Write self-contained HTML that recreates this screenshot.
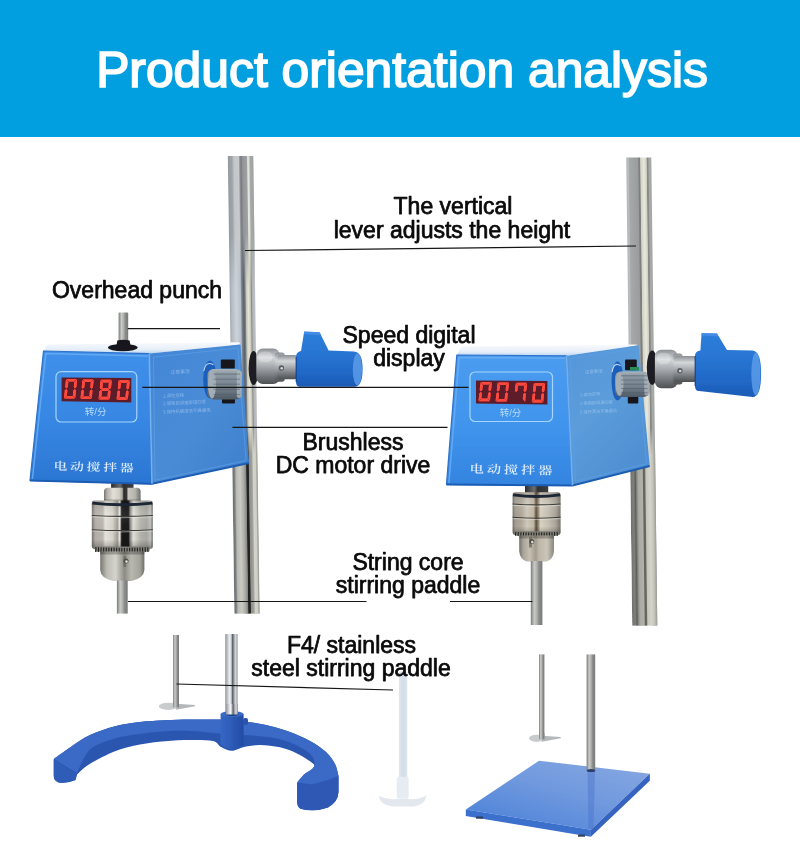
<!DOCTYPE html>
<html lang="en">
<head>
<meta charset="utf-8">
<title>Product orientation analysis</title>
<style>
html,body{margin:0;padding:0;background:#fff;}
body{width:800px;height:841px;overflow:hidden;position:relative;font-family:"Liberation Sans","Noto Sans CJK SC",sans-serif;}
#hdr{position:absolute;left:0;top:0;width:800px;height:137px;background:#019fe0;}
#hdr h1{position:absolute;left:0;top:0;width:800px;margin:0;text-align:center;color:#fff;font-weight:400;font-size:49.8px;line-height:52px;top:44px;padding-left:4px;box-sizing:border-box;letter-spacing:0;-webkit-text-stroke:1.7px #fff;white-space:nowrap;}
svg{position:absolute;left:0;top:0;}
.lbl{font-family:"Liberation Sans",sans-serif;font-size:23px;fill:#0a0a0a;text-anchor:middle;stroke:#0a0a0a;stroke-width:0.75px;stroke-linejoin:round;}
.ln{stroke:#161616;stroke-width:1.2;fill:none;}
</style>
</head>
<body>
<div id="hdr"><h1>Product orientation analysis</h1></div>
<svg id="art" width="800" height="841" viewBox="0 0 800 841">
<defs>
<linearGradient id="rod" x1="0" y1="0" x2="1" y2="0">
  <stop offset="0" stop-color="#a0a7ad"/>
  <stop offset="0.07" stop-color="#b4bbc2"/>
  <stop offset="0.25" stop-color="#cdd3da"/>
  <stop offset="0.42" stop-color="#b9c0c9"/>
  <stop offset="0.47" stop-color="#7a828d"/>
  <stop offset="0.55" stop-color="#59616b"/>
  <stop offset="0.61" stop-color="#7e848a"/>
  <stop offset="0.64" stop-color="#c3c3b6"/>
  <stop offset="0.73" stop-color="#e6e5d8"/>
  <stop offset="0.81" stop-color="#c4c4b8"/>
  <stop offset="0.85" stop-color="#8b8c86"/>
  <stop offset="0.89" stop-color="#b0b3b8"/>
  <stop offset="1" stop-color="#c0c4c8"/>
</linearGradient>
<linearGradient id="rodR" x1="0" y1="0" x2="1" y2="0">
  <stop offset="0" stop-color="#b4b7b8"/>
  <stop offset="0.08" stop-color="#bbbebe"/>
  <stop offset="0.12" stop-color="#a6a9aa"/>
  <stop offset="0.46" stop-color="#9a9d9e"/>
  <stop offset="0.5" stop-color="#7b7e7c"/>
  <stop offset="0.54" stop-color="#7f827f"/>
  <stop offset="0.57" stop-color="#d3d2c6"/>
  <stop offset="0.7" stop-color="#e9e8dd"/>
  <stop offset="0.8" stop-color="#d0cfc4"/>
  <stop offset="0.83" stop-color="#888984"/>
  <stop offset="0.87" stop-color="#8c8d88"/>
  <stop offset="0.9" stop-color="#a8aaaa"/>
  <stop offset="1" stop-color="#a4a6a6"/>
</linearGradient>
<linearGradient id="rodLow" x1="0" y1="0" x2="1" y2="0">
  <stop offset="0" stop-color="#6a6e70"/>
  <stop offset="0.08" stop-color="#7d8182"/>
  <stop offset="0.14" stop-color="#b9bab4"/>
  <stop offset="0.3" stop-color="#cacac2"/>
  <stop offset="0.45" stop-color="#a8a9a4"/>
  <stop offset="0.54" stop-color="#85867f"/>
  <stop offset="0.57" stop-color="#1f2021"/>
  <stop offset="0.64" stop-color="#242526"/>
  <stop offset="0.67" stop-color="#8e8f8a"/>
  <stop offset="0.79" stop-color="#a3a49e"/>
  <stop offset="0.83" stop-color="#d4d4ca"/>
  <stop offset="0.93" stop-color="#cfcfc6"/>
  <stop offset="1" stop-color="#8f908c"/>
</linearGradient>
<linearGradient id="rodLowR" x1="0" y1="0" x2="1" y2="0">
  <stop offset="0" stop-color="#6f706b"/>
  <stop offset="0.12" stop-color="#80817b"/>
  <stop offset="0.2" stop-color="#5f6059"/>
  <stop offset="0.26" stop-color="#8b8c86"/>
  <stop offset="0.32" stop-color="#a9aaa3"/>
  <stop offset="0.48" stop-color="#b2b2aa"/>
  <stop offset="0.52" stop-color="#62635c"/>
  <stop offset="0.58" stop-color="#6a6b64"/>
  <stop offset="0.62" stop-color="#c6c6bd"/>
  <stop offset="0.78" stop-color="#d4d4cb"/>
  <stop offset="0.9" stop-color="#c2c2b9"/>
  <stop offset="1" stop-color="#9a9b95"/>
</linearGradient>
<linearGradient id="thin" x1="0" y1="0" x2="1" y2="0">
  <stop offset="0" stop-color="#787b7c"/>
  <stop offset="0.3" stop-color="#c9cac6"/>
  <stop offset="0.5" stop-color="#b4b5b0"/>
  <stop offset="0.7" stop-color="#8b8d8c"/>
  <stop offset="1" stop-color="#77797a"/>
</linearGradient>
<linearGradient id="front" x1="0" y1="0" x2="0" y2="1">
  <stop offset="0" stop-color="#3f90ea"/>
  <stop offset="0.55" stop-color="#3686e3"/>
  <stop offset="1" stop-color="#2b76d2"/>
</linearGradient>
<linearGradient id="side" x1="0" y1="0" x2="1" y2="1">
  <stop offset="0" stop-color="#4286d6"/>
  <stop offset="0.5" stop-color="#4a8cd6"/>
  <stop offset="1" stop-color="#3f7fcc"/>
</linearGradient>
<linearGradient id="topf" x1="0" y1="0" x2="0" y2="1">
  <stop offset="0" stop-color="#f8fafd"/>
  <stop offset="0.65" stop-color="#e6eef8"/>
  <stop offset="1" stop-color="#bcd6f3"/>
</linearGradient>
<linearGradient id="chrome" x1="0" y1="0" x2="1" y2="0">
  <stop offset="0" stop-color="#77746f"/>
  <stop offset="0.06" stop-color="#b3aea8"/>
  <stop offset="0.18" stop-color="#bdb8b0"/>
  <stop offset="0.22" stop-color="#e6e4dc"/>
  <stop offset="0.34" stop-color="#d6d4ca"/>
  <stop offset="0.42" stop-color="#a19f94"/>
  <stop offset="0.46" stop-color="#efeee8"/>
  <stop offset="0.49" stop-color="#1a1a1a"/>
  <stop offset="0.6" stop-color="#151515"/>
  <stop offset="0.63" stop-color="#8a8983"/>
  <stop offset="0.68" stop-color="#e2e1da"/>
  <stop offset="0.8" stop-color="#b5b4ac"/>
  <stop offset="0.9" stop-color="#a9a8a2"/>
  <stop offset="0.96" stop-color="#c2c2bc"/>
  <stop offset="1" stop-color="#6d6e70"/>
</linearGradient>
<linearGradient id="nose" x1="0" y1="0" x2="1" y2="0">
  <stop offset="0" stop-color="#77766f"/>
  <stop offset="0.15" stop-color="#bdbcb4"/>
  <stop offset="0.35" stop-color="#d5d4cc"/>
  <stop offset="0.55" stop-color="#8d8c84"/>
  <stop offset="0.7" stop-color="#b9b8b0"/>
  <stop offset="0.9" stop-color="#a3a29b"/>
  <stop offset="1" stop-color="#6f6e69"/>
</linearGradient>
<linearGradient id="collar" x1="0" y1="0" x2="0" y2="1">
  <stop offset="0" stop-color="#8b8f93"/>
  <stop offset="0.25" stop-color="#d4d7da"/>
  <stop offset="0.5" stop-color="#a9adb1"/>
  <stop offset="0.8" stop-color="#6f7377"/>
  <stop offset="1" stop-color="#4d5053"/>
</linearGradient>
<linearGradient id="handle" x1="0" y1="0" x2="0" y2="1">
  <stop offset="0" stop-color="#2d7ddb"/>
  <stop offset="0.3" stop-color="#2a78d6"/>
  <stop offset="0.75" stop-color="#2168c6"/>
  <stop offset="1" stop-color="#1b5bb4"/>
</linearGradient>
<linearGradient id="knob" x1="0" y1="0" x2="0" y2="1">
  <stop offset="0" stop-color="#aab4bc"/>
  <stop offset="0.15" stop-color="#8e9aa4"/>
  <stop offset="0.6" stop-color="#74818d"/>
  <stop offset="1" stop-color="#4f5b66"/>
</linearGradient>
<linearGradient id="baseTop" x1="0" y1="0" x2="0" y2="1">
  <stop offset="0" stop-color="#3f74d2"/>
  <stop offset="1" stop-color="#2c5cc0"/>
</linearGradient>
<linearGradient id="plateTop" x1="0.9" y1="0" x2="0.1" y2="1">
  <stop offset="0" stop-color="#86a7e2"/>
  <stop offset="0.45" stop-color="#7099de"/>
  <stop offset="1" stop-color="#4a80d8"/>
</linearGradient>
<filter id="soft" x="-5%" y="-5%" width="110%" height="110%"><feGaussianBlur stdDeviation="0.45"/></filter>
<filter id="soft2" x="-10%" y="-10%" width="120%" height="120%"><feGaussianBlur stdDeviation="0.8"/></filter>
<linearGradient id="neck" x1="0" y1="0" x2="1" y2="0">
  <stop offset="0" stop-color="#2a2c2e"/>
  <stop offset="0.4" stop-color="#6b6e70"/>
  <stop offset="0.55" stop-color="#2f3133"/>
  <stop offset="1" stop-color="#3c3e40"/>
</linearGradient>
<filter id="glow" x="-20%" y="-20%" width="140%" height="140%"><feGaussianBlur stdDeviation="0.5" result="b"/><feMerge><feMergeNode in="b"/><feMergeNode in="SourceGraphic"/></feMerge></filter>
<linearGradient id="hub" x1="0" y1="0" x2="1" y2="0">
  <stop offset="0" stop-color="#3767c4"/>
  <stop offset="0.4" stop-color="#2f5dba"/>
  <stop offset="1" stop-color="#234ca4"/>
</linearGradient>
<linearGradient id="ptfe" x1="0" y1="0" x2="1" y2="0">
  <stop offset="0" stop-color="#dfe7ef"/>
  <stop offset="0.5" stop-color="#d3deea"/>
  <stop offset="1" stop-color="#dde5ee"/>
</linearGradient>
<linearGradient id="vshade" x1="0" y1="0" x2="0" y2="1">
  <stop offset="0" stop-color="#000" stop-opacity="0.12"/>
  <stop offset="0.3" stop-color="#fff" stop-opacity="0.08"/>
  <stop offset="0.8" stop-color="#000" stop-opacity="0"/>
  <stop offset="1" stop-color="#000" stop-opacity="0.28"/>
</linearGradient>
<linearGradient id="chromeR" x1="0" y1="0" x2="1" y2="0">
  <stop offset="0" stop-color="#6f6a62"/>
  <stop offset="0.05" stop-color="#a39c90"/>
  <stop offset="0.18" stop-color="#b0a89a"/>
  <stop offset="0.3" stop-color="#d0c9bb"/>
  <stop offset="0.44" stop-color="#c0b7a6"/>
  <stop offset="0.49" stop-color="#5c4c3a"/>
  <stop offset="0.53" stop-color="#8a7c68"/>
  <stop offset="0.58" stop-color="#d9d3c5"/>
  <stop offset="0.75" stop-color="#c6bfb2"/>
  <stop offset="0.9" stop-color="#aaa398"/>
  <stop offset="1" stop-color="#77726a"/>
</linearGradient>
<linearGradient id="noseR" x1="0" y1="0" x2="1" y2="0">
  <stop offset="0" stop-color="#76716a"/>
  <stop offset="0.12" stop-color="#aaa499"/>
  <stop offset="0.3" stop-color="#c6c0b3"/>
  <stop offset="0.48" stop-color="#a39b8c"/>
  <stop offset="0.56" stop-color="#bdb6a8"/>
  <stop offset="0.8" stop-color="#cbc5b9"/>
  <stop offset="1" stop-color="#8a857d"/>
</linearGradient>
<linearGradient id="rodBase" x1="0" y1="0" x2="1" y2="0">
  <stop offset="0" stop-color="#8f979e"/>
  <stop offset="0.2" stop-color="#c3c9cf"/>
  <stop offset="0.38" stop-color="#f3f5f7"/>
  <stop offset="0.5" stop-color="#b8bec4"/>
  <stop offset="0.6" stop-color="#545a60"/>
  <stop offset="0.7" stop-color="#9aa0a6"/>
  <stop offset="0.85" stop-color="#d7dadd"/>
  <stop offset="1" stop-color="#8d9399"/>
</linearGradient>
<linearGradient id="frontR" x1="0" y1="0" x2="0" y2="1">
  <stop offset="0" stop-color="#4a9cf0"/>
  <stop offset="0.55" stop-color="#4094ec"/>
  <stop offset="1" stop-color="#3384e0"/>
</linearGradient>
<linearGradient id="sideR" x1="0" y1="0" x2="0.6" y2="1">
  <stop offset="0" stop-color="#5596da"/>
  <stop offset="0.5" stop-color="#5b9cda"/>
  <stop offset="1" stop-color="#4f8fd2"/>
</linearGradient>
<linearGradient id="chromeC" x1="0" y1="0" x2="1" y2="0">
  <stop offset="0" stop-color="#77746f"/>
  <stop offset="0.08" stop-color="#b3aea8"/>
  <stop offset="0.25" stop-color="#e2e0d8"/>
  <stop offset="0.42" stop-color="#cfcdc4"/>
  <stop offset="0.5" stop-color="#a8a69c"/>
  <stop offset="0.54" stop-color="#2a2a2a"/>
  <stop offset="0.62" stop-color="#3a3a38"/>
  <stop offset="0.66" stop-color="#c9c8c0"/>
  <stop offset="0.85" stop-color="#b5b4ac"/>
  <stop offset="1" stop-color="#6d6e70"/>
</linearGradient>
<linearGradient id="rodTop" x1="0" y1="0" x2="1" y2="0">
  <stop offset="0" stop-color="#949a9e"/>
  <stop offset="0.16" stop-color="#a0a5a9"/>
  <stop offset="0.24" stop-color="#c3c7ca"/>
  <stop offset="0.42" stop-color="#c6cacd"/>
  <stop offset="0.47" stop-color="#8a8f93"/>
  <stop offset="0.52" stop-color="#777c80"/>
  <stop offset="0.58" stop-color="#92969a"/>
  <stop offset="0.74" stop-color="#9da1a2"/>
  <stop offset="0.78" stop-color="#e9e9e1"/>
  <stop offset="0.83" stop-color="#dcdcd4"/>
  <stop offset="0.87" stop-color="#a6a9a9"/>
  <stop offset="1" stop-color="#a0a3a4"/>
</linearGradient>
<linearGradient id="fadeDown" x1="0" y1="0" x2="0" y2="1">
  <stop offset="0" stop-color="#fff" stop-opacity="1"/>
  <stop offset="0.6" stop-color="#fff" stop-opacity="1"/>
  <stop offset="1" stop-color="#fff" stop-opacity="0"/>
</linearGradient>
<mask id="mTop" maskUnits="userSpaceOnUse" x="0" y="0" width="30" height="130"><rect x="0" y="0" width="30" height="130" fill="url(#fadeDown)"/></mask>
<linearGradient id="fadeUp" x1="0" y1="0" x2="0" y2="1">
  <stop offset="0" stop-color="#fff" stop-opacity="0"/>
  <stop offset="0.14" stop-color="#fff" stop-opacity="1"/>
  <stop offset="1" stop-color="#fff" stop-opacity="1"/>
</linearGradient>
<mask id="mLow" maskUnits="userSpaceOnUse" x="0" y="270" width="30" height="200"><rect x="0" y="270" width="30" height="200" fill="url(#fadeUp)"/></mask>

</defs>
<g id="photo" filter="url(#soft)">
<rect x="0" y="0" width="25.4" height="457.5" fill="url(#rod)" transform="translate(227.8,156) skewX(0.82)"/>
<rect x="0" y="0" width="25.1" height="468" fill="url(#rodR)" transform="translate(626.2,157.5) skewX(0.735)"/>
<g transform="translate(227.8,156) skewX(0.82)"><rect x="0" y="0" width="25.4" height="130" fill="url(#rodTop)" mask="url(#mTop)"/></g>
<g transform="translate(227.8,156) skewX(0.82)"><rect x="0.2" y="270" width="24.9" height="187.5" fill="url(#rodLow)" mask="url(#mLow)"/></g>
<g transform="translate(626.2,157.5) skewX(0.735)"><rect x="0" y="270" width="25.1" height="198" fill="url(#rodLowR)" mask="url(#mLow)"/></g>
<rect x="111.1" y="480.0" width="22.4" height="9.5" fill="url(#neck)"/>
<path d="M104.0,501.5 L104.0,491.3 Q104.0,487.8 108.0,487.8 L136.6,487.8 Q140.6,487.8 140.6,491.3 L140.6,501.5 Z" fill="url(#chromeC)"/>
<rect x="104.0" y="499.5" width="36.6" height="2" fill="#000" opacity="0.25"/>
<rect x="91.8" y="500.5" width="61.0" height="48.5" rx="3" fill="url(#chrome)"/>
<rect x="91.8" y="500.5" width="61.0" height="48.5" rx="3" fill="url(#vshade)"/>
<path d="M92.6,501.7 Q122.3,504.7 152.0,501.7 L152.5,504.5 Q122.3,508.1 92.1,504.5 Z" fill="#1c2536"/>
<path d="M91.8,515.5 Q122.3,517.3 152.8,515.5" stroke="#3b3b38" stroke-width="1.1" fill="none"/>
<path d="M91.8,516.8 Q122.3,518.6 152.8,516.8" stroke="#f2f1ea" stroke-width="0.8" fill="none" opacity="0.6"/>
<path d="M91.8,529.7 Q122.3,531.5 152.8,529.7" stroke="#3b3b38" stroke-width="1.1" fill="none"/>
<path d="M91.8,531.0 Q122.3,532.8 152.8,531.0" stroke="#f2f1ea" stroke-width="0.8" fill="none" opacity="0.6"/>
<path d="M94.3,546.5 L150.3,546.5 L149.3,551.5 Q122.3,553.7 95.3,551.5 Z" fill="#7f7e78"/>
<path d="M95.3,549.5 Q122.3,551.1 149.3,549.5" stroke="#24241f" stroke-width="4.8" stroke-dasharray="1.1 1.5" fill="none"/>
<path d="M100.2,551.5 L144.4,551.5 L144.4,570.0 Q143.9,578.2 131.5,581.0 L113.1,581.0 Q100.7,578.2 100.2,570.0 Z" fill="url(#nose)"/>
<rect x="100.2" y="551.5" width="44.2" height="3" fill="#000" opacity="0.25"/>
<rect x="116.9" y="580.5" width="10.8" height="33.1" fill="url(#thin)"/>
<rect x="123.2" y="556.0" width="3" height="11" fill="#6d6c66" opacity="0.8"/>
<circle cx="126.0" cy="561.0" r="2.5" fill="#4d4d48"/><circle cx="126.5" cy="561.6" r="1.3" fill="#dddcd6"/>
<polygon points="43.5,351.0 47.0,344.5 239.0,342.2 240.5,344.5 149.3,353.6" fill="url(#topf)"/>
<polygon points="149.3,353.6 240.5,344.5 249.0,463.0 152.0,483.8" fill="url(#side)"/>
<polygon points="153.5,357.2 238.0,348.0 246.0,460.5 155.0,480.2" fill="none" stroke="#5b9fe6" stroke-width="1" opacity="0.7"/>
<polygon points="43.5,351.0 149.3,353.6 152.0,483.8 30.0,480.4" fill="url(#front)" stroke="#2f72cc" stroke-width="1.2" stroke-linejoin="round"/>
<polyline points="32.4,478.9 45.8,353.4 147.8,356.0" fill="none" stroke="#6aaef2" stroke-width="1.5" stroke-linejoin="round" opacity="0.85"/>
<polyline points="30.0,480.4 152.0,483.8 249.0,463.0" fill="none" stroke="#1f5db4" stroke-width="2"/>
<line x1="149.3" y1="353.6" x2="152.0" y2="483.8" stroke="#74b0ee" stroke-width="1.6"/>
<rect x="56.0" y="371.6" width="80.8" height="50.4" rx="5" fill="none" stroke="#a6d5fa" stroke-width="1.2"/>
<polygon points="61.6,377.4 131.3,378.0 131.3,402.4 61.6,401.2" fill="#5c1a2a"/>
<g filter="url(#glow)"><polygon points="66.3,379.0 76.8,379.0 74.0,381.6 68.7,381.6" fill="#ff4a3c"/><polygon points="77.2,379.4 74.3,381.9 73.8,387.1 74.9,388.4 76.4,387.1" fill="#ff4a3c"/><polygon points="75.2,398.2 72.9,395.6 73.4,390.4 74.9,389.1 76.0,390.4" fill="#ff4a3c"/><polygon points="64.3,398.6 74.8,398.6 72.5,396.0 67.2,396.0" fill="#ff4a3c"/><polygon points="64.0,398.2 66.9,395.6 67.4,390.4 66.3,389.1 64.8,390.4" fill="#ff4a3c"/><polygon points="66.0,379.4 68.3,381.9 67.8,387.1 66.3,388.4 65.2,387.1" fill="#ff4a3c"/></g>
<g filter="url(#glow)"><polygon points="82.8,379.4 93.3,379.4 90.5,382.0 85.2,382.0" fill="#ff4a3c"/><polygon points="93.7,379.8 90.8,382.3 90.3,387.5 91.4,388.8 92.9,387.5" fill="#ff4a3c"/><polygon points="91.7,398.6 89.4,396.0 89.9,390.8 91.4,389.5 92.5,390.8" fill="#ff4a3c"/><polygon points="80.8,399.0 91.3,399.0 89.0,396.4 83.7,396.4" fill="#ff4a3c"/><polygon points="80.5,398.6 83.4,396.0 83.9,390.8 82.8,389.5 81.3,390.8" fill="#ff4a3c"/><polygon points="82.5,379.8 84.8,382.3 84.3,387.5 82.8,388.8 81.7,387.5" fill="#ff4a3c"/></g>
<g filter="url(#glow)"><polygon points="100.9,379.8 111.4,379.8 108.6,382.4 103.3,382.4" fill="#ff4a3c"/><polygon points="111.8,380.2 108.9,382.8 108.4,387.9 109.5,389.2 111.0,387.9" fill="#ff4a3c"/><polygon points="109.8,399.1 107.5,396.4 108.0,391.2 109.5,389.9 110.6,391.2" fill="#ff4a3c"/><polygon points="98.9,399.4 109.4,399.4 107.1,396.8 101.8,396.8" fill="#ff4a3c"/><polygon points="98.6,399.1 101.5,396.4 102.0,391.2 100.9,389.9 99.4,391.2" fill="#ff4a3c"/><polygon points="100.6,380.2 102.9,382.8 102.4,387.9 100.9,389.2 99.8,387.9" fill="#ff4a3c"/><polygon points="101.2,389.6 102.7,388.3 108.0,388.3 109.1,389.6 107.7,390.9 102.4,390.9" fill="#ff4a3c"/></g>
<g filter="url(#glow)"><polygon points="118.9,380.2 129.4,380.2 126.6,382.8 121.3,382.8" fill="#ff4a3c"/><polygon points="129.8,380.6 126.9,383.1 126.4,388.3 127.5,389.6 129.0,388.3" fill="#ff4a3c"/><polygon points="127.8,399.4 125.5,396.8 126.0,391.6 127.5,390.3 128.6,391.6" fill="#ff4a3c"/><polygon points="116.9,399.8 127.4,399.8 125.1,397.2 119.8,397.2" fill="#ff4a3c"/><polygon points="116.6,399.4 119.5,396.8 120.0,391.6 118.9,390.3 117.4,391.6" fill="#ff4a3c"/><polygon points="118.6,380.6 120.9,383.1 120.4,388.3 118.9,389.6 117.8,388.3" fill="#ff4a3c"/></g>
<text x="95.6" y="414.6" font-family="Liberation Sans,Noto Sans CJK SC,sans-serif" font-size="9.5" fill="#b6dbfa" text-anchor="middle">转/分</text>
<text x="0" y="0" font-family="Liberation Serif,Noto Serif CJK SC,serif" font-weight="600" font-size="10.8" fill="#dcebfb" text-anchor="middle" textLength="62.5" lengthAdjust="spacing" transform="translate(93.5 470.8) rotate(1.50) scale(1.28 1)">电动搅拌器</text>
<text x="170.6" y="374.0" font-family="Liberation Sans,Noto Sans CJK SC,sans-serif" font-size="4.8" fill="#b5d3f5" opacity="0.6" transform="rotate(-2.5 170.6 374.0)">注意事项</text>
<text x="163.0" y="397.5" font-family="Liberation Sans,Noto Sans CJK SC,sans-serif" font-size="4.4" fill="#b5d3f5" opacity="0.6" transform="rotate(-2.5 163.0 397.5)">1.请勿空转</text>
<text x="163.0" y="405.2" font-family="Liberation Sans,Noto Sans CJK SC,sans-serif" font-size="4.4" fill="#b5d3f5" opacity="0.6" transform="rotate(-2.5 163.0 405.2)">2.使用前调速旋钮归零</text>
<text x="163.0" y="413.6" font-family="Liberation Sans,Noto Sans CJK SC,sans-serif" font-size="4.4" fill="#b5d3f5" opacity="0.6" transform="rotate(-2.5 163.0 413.6)">3.保持机器清洁干燥通风</text>
<ellipse cx="210.0" cy="379.5" rx="6.8" ry="18.8" fill="#1f5fba"/>
<path d="M203.8,371.0 Q205.9,360.3 213.4,364.8" fill="none" stroke="#d6e6f8" stroke-width="1.1" opacity="0.85"/>
<rect x="220.8" y="359.5" width="14.0" height="9.0" rx="1" fill="#15181c"/>
<rect x="222.0" y="397.0" width="13.0" height="6.4" rx="1" fill="#15181c"/>
<rect x="207.5" y="369.0" width="34.5" height="30.5" rx="6" fill="url(#knob)"/>
<rect x="236.8" y="370.5" width="5" height="27.5" rx="2.5" fill="#aeb7be" opacity="0.8"/>
<ellipse cx="212.0" cy="384.2" rx="4" ry="14.2" fill="#a3adb5"/>
<line x1="213.5" y1="374.1" x2="240.0" y2="374.1" stroke="#4f5a65" stroke-width="0.8" opacity="0.7"/>
<line x1="213.5" y1="379.2" x2="240.0" y2="379.2" stroke="#4f5a65" stroke-width="0.8" opacity="0.7"/>
<line x1="213.5" y1="384.2" x2="240.0" y2="384.2" stroke="#4f5a65" stroke-width="0.8" opacity="0.7"/>
<line x1="213.5" y1="389.3" x2="240.0" y2="389.3" stroke="#4f5a65" stroke-width="0.8" opacity="0.7"/>
<line x1="213.5" y1="394.4" x2="240.0" y2="394.4" stroke="#4f5a65" stroke-width="0.8" opacity="0.7"/>
<rect x="118.6" y="312.4" width="9.6" height="32" rx="1" fill="url(#thin)"/>
<ellipse cx="122.8" cy="347.6" rx="14.8" ry="3.6" fill="#15171a"/>
<path d="M117.3,340.5 Q123.5,338.8 129.6,340.5 L130.6,346 L116.4,346 Z" fill="#15171a"/>
<ellipse cx="253.6" cy="368.0" rx="5.0" ry="17.0" fill="#1b1d20"/>
<rect x="256.3" y="348.6" width="23.5" height="35.4" rx="6.5" fill="url(#collar)"/>
<rect x="258.3" y="351.6" width="14.1" height="10.6" rx="5" fill="#fff" opacity="0.25"/>
<rect x="274.8" y="352.5" width="10" height="29.3" rx="3" fill="url(#collar)"/>
<rect x="277.4" y="355.0" width="19.6" height="24.3" rx="2" fill="url(#collar)"/>
<circle cx="281.4" cy="368.0" r="2.7" fill="#595d61"/><circle cx="281.7" cy="368.3" r="1.3" fill="#c9d4e4"/>
<path d="M296.0,357.0 Q296.0,352.0 301.0,351.0 L304.2,331.4 L319.6,332.2 L328.6,350.5 L354.0,351.5 Q362.6,352.0 362.6,368.9 Q362.6,386.8 354.0,386.8 L300.0,386.8 Q296.0,386.8 296.0,381.8 Z" fill="url(#handle)"/>
<ellipse cx="357.4" cy="369.4" rx="4.6" ry="15.9" fill="#5b9be9" opacity="0.85"/>
<polygon points="304.2,331.4 319.6,332.2 321.2,335.2 303.9,334.0" fill="#4c93ea" opacity="0.7"/>
<rect x="295.4" y="357.0" width="1.6" height="24.8" fill="#123a7a" opacity="0.6"/>
<rect x="525.0" y="484.0" width="23.2" height="9.0" fill="url(#neck)"/>
<rect x="512.6" y="492.3" width="48.0" height="42.7" rx="3" fill="url(#chromeR)"/>
<rect x="512.6" y="492.3" width="48.0" height="42.7" rx="3" fill="url(#vshade)"/>
<path d="M513.4,493.5 Q536.6,496.5 559.8,493.5 L560.3,496.3 Q536.6,499.9 512.9,496.3 Z" fill="#1c2536"/>
<path d="M512.6,504.0 Q536.6,505.8 560.6,504.0" stroke="#3b3b38" stroke-width="1.1" fill="none"/>
<path d="M512.6,505.3 Q536.6,507.1 560.6,505.3" stroke="#f2f1ea" stroke-width="0.8" fill="none" opacity="0.6"/>
<path d="M512.6,517.3 Q536.6,519.1 560.6,517.3" stroke="#3b3b38" stroke-width="1.1" fill="none"/>
<path d="M512.6,518.6 Q536.6,520.4 560.6,518.6" stroke="#f2f1ea" stroke-width="0.8" fill="none" opacity="0.6"/>
<path d="M514.1,531.2 L559.1,531.2 L558.1,535.4 Q536.6,537.6 515.1,535.4 Z" fill="#7f7e78"/>
<path d="M515.1,533.8 Q536.6,535.4 558.1,533.8" stroke="#24241f" stroke-width="4.0" stroke-dasharray="1.1 1.5" fill="none"/>
<path d="M519.2,535.5 L554.0,535.5 L554.0,551.0 Q553.5,558.9 546.6,561.5 L526.6,561.5 Q519.7,558.9 519.2,551.0 Z" fill="url(#noseR)"/>
<rect x="519.2" y="535.5" width="34.8" height="3" fill="#000" opacity="0.25"/>
<rect x="530.8" y="561.0" width="11.6" height="64.0" fill="url(#thin)"/>
<rect x="529.0" y="536.5" width="3" height="11" fill="#6d6c66" opacity="0.8"/>
<circle cx="531.8" cy="541.5" r="2.5" fill="#4d4d48"/><circle cx="532.3" cy="542.1" r="1.3" fill="#dddcd6"/>
<polygon points="456.8,355.0 461.5,346.5 636.0,344.6 638.5,345.3 566.5,355.8" fill="url(#topf)"/>
<polygon points="566.5,355.8 638.5,345.3 649.7,466.0 572.5,485.4" fill="url(#sideR)"/>
<polygon points="570.0,358.5 636.0,348.8 646.6,463.6 575.5,481.3" fill="none" stroke="#5b9fe6" stroke-width="1" opacity="0.7"/>
<polygon points="456.8,355.0 566.5,355.8 572.5,485.4 446.5,484.4" fill="url(#frontR)" stroke="#2f72cc" stroke-width="1.2" stroke-linejoin="round"/>
<polyline points="448.9,482.9 459.1,357.4 565.0,358.2" fill="none" stroke="#6aaef2" stroke-width="1.5" stroke-linejoin="round" opacity="0.85"/>
<polyline points="446.5,484.4 572.5,485.4 649.7,466.0" fill="none" stroke="#1f5db4" stroke-width="2"/>
<line x1="566.5" y1="355.8" x2="572.5" y2="485.4" stroke="#74b0ee" stroke-width="1.6"/>
<rect x="470.0" y="372.0" width="82.5" height="49.5" rx="5" fill="none" stroke="#a6d5fa" stroke-width="1.2"/>
<polygon points="476.0,380.4 547.4,381.0 547.4,404.6 476.0,403.4" fill="#5c1a2a"/>
<g filter="url(#glow)"><polygon points="480.9,382.0 491.6,382.0 488.7,384.6 483.2,384.6" fill="#ff4a3c"/><polygon points="491.9,382.4 489.0,384.9 488.5,389.9 489.6,391.2 491.1,389.9" fill="#ff4a3c"/><polygon points="489.9,400.9 487.6,398.2 488.1,393.2 489.6,391.9 490.7,393.2" fill="#ff4a3c"/><polygon points="478.9,401.2 489.6,401.2 487.2,398.6 481.7,398.6" fill="#ff4a3c"/><polygon points="478.5,400.9 481.4,398.2 481.9,393.2 480.8,391.9 479.3,393.2" fill="#ff4a3c"/><polygon points="480.5,382.4 482.8,384.9 482.3,389.9 480.8,391.2 479.7,389.9" fill="#ff4a3c"/></g>
<g filter="url(#glow)"><polygon points="498.0,382.4 508.7,382.4 505.8,385.0 500.3,385.0" fill="#ff4a3c"/><polygon points="509.0,382.8 506.1,385.3 505.6,390.3 506.7,391.6 508.2,390.3" fill="#ff4a3c"/><polygon points="507.0,401.2 504.7,398.6 505.2,393.6 506.7,392.3 507.8,393.6" fill="#ff4a3c"/><polygon points="496.0,401.6 506.7,401.6 504.3,399.0 498.8,399.0" fill="#ff4a3c"/><polygon points="495.6,401.2 498.5,398.6 499.0,393.6 497.9,392.3 496.4,393.6" fill="#ff4a3c"/><polygon points="497.6,382.8 499.9,385.3 499.4,390.3 497.9,391.6 496.8,390.3" fill="#ff4a3c"/></g>
<g filter="url(#glow)"><polygon points="516.1,382.8 526.8,382.8 523.9,385.4 518.4,385.4" fill="#ff4a3c"/><polygon points="527.1,383.2 524.2,385.8 523.7,390.8 524.8,392.1 526.3,390.8" fill="#ff4a3c"/><polygon points="525.1,401.7 522.8,399.1 523.3,394.1 524.8,392.8 525.9,394.1" fill="#ff4a3c"/><polygon points="515.7,383.2 518.0,385.8 517.5,390.8 516.0,392.1 514.9,390.8" fill="#ff4a3c"/></g>
<g filter="url(#glow)"><polygon points="534.1,383.2 544.8,383.2 542.0,385.8 536.5,385.8" fill="#ff4a3c"/><polygon points="545.2,383.6 542.3,386.1 541.8,391.1 542.9,392.4 544.4,391.1" fill="#ff4a3c"/><polygon points="543.2,402.1 540.9,399.4 541.4,394.4 542.9,393.1 544.0,394.4" fill="#ff4a3c"/><polygon points="532.1,402.4 542.8,402.4 540.5,399.8 535.0,399.8" fill="#ff4a3c"/><polygon points="531.8,402.1 534.7,399.4 535.2,394.4 534.1,393.1 532.6,394.4" fill="#ff4a3c"/><polygon points="533.8,383.6 536.1,386.1 535.6,391.1 534.1,392.4 533.0,391.1" fill="#ff4a3c"/></g>
<text x="510.5" y="415.5" font-family="Liberation Sans,Noto Sans CJK SC,sans-serif" font-size="9.5" fill="#b6dbfa" text-anchor="middle">转/分</text>
<text x="0" y="0" font-family="Liberation Serif,Noto Serif CJK SC,serif" font-weight="600" font-size="11.2" fill="#dcebfb" text-anchor="middle" textLength="64.8" lengthAdjust="spacing" transform="translate(511.0 473.6) rotate(1.20) scale(1.28 1)">电动搅拌器</text>
<text x="585.0" y="373.5" font-family="Liberation Sans,Noto Sans CJK SC,sans-serif" font-size="4.4" fill="#b5d3f5" opacity="0.6" transform="rotate(-2.5 585.0 373.5)">注意事项</text>
<text x="580.0" y="396.3" font-family="Liberation Sans,Noto Sans CJK SC,sans-serif" font-size="4.2" fill="#b5d3f5" opacity="0.6" transform="rotate(-2.5 580.0 396.3)">1.请勿空转</text>
<text x="580.0" y="405.0" font-family="Liberation Sans,Noto Sans CJK SC,sans-serif" font-size="4.2" fill="#b5d3f5" opacity="0.6" transform="rotate(-2.5 580.0 405.0)">2.使用前调速归零</text>
<text x="580.0" y="413.6" font-family="Liberation Sans,Noto Sans CJK SC,sans-serif" font-size="4.2" fill="#b5d3f5" opacity="0.6" transform="rotate(-2.5 580.0 413.6)">3.保持清洁干燥通风</text>
<ellipse cx="617.5" cy="381.0" rx="6.0" ry="19.5" fill="#1f5fba"/>
<path d="M612.1,372.2 Q613.9,361.1 620.5,365.8" fill="none" stroke="#d6e6f8" stroke-width="1.1" opacity="0.85"/>
<rect x="625.0" y="359.6" width="11.8" height="10.6" rx="1" fill="#15181c"/>
<rect x="627.8" y="396.5" width="10.5" height="7.0" rx="1" fill="#15181c"/>
<rect x="630.0" y="367.0" width="9.0" height="3.6" fill="#2b8a5c"/>
<rect x="615.0" y="371.5" width="34.5" height="25.5" rx="6" fill="url(#knob)"/>
<rect x="644.3" y="373.0" width="5" height="22.5" rx="2.5" fill="#aeb7be" opacity="0.8"/>
<ellipse cx="619.5" cy="384.2" rx="4" ry="11.8" fill="#a3adb5"/>
<line x1="621.0" y1="375.8" x2="647.5" y2="375.8" stroke="#4f5a65" stroke-width="0.8" opacity="0.7"/>
<line x1="621.0" y1="380.0" x2="647.5" y2="380.0" stroke="#4f5a65" stroke-width="0.8" opacity="0.7"/>
<line x1="621.0" y1="384.2" x2="647.5" y2="384.2" stroke="#4f5a65" stroke-width="0.8" opacity="0.7"/>
<line x1="621.0" y1="388.5" x2="647.5" y2="388.5" stroke="#4f5a65" stroke-width="0.8" opacity="0.7"/>
<line x1="621.0" y1="392.8" x2="647.5" y2="392.8" stroke="#4f5a65" stroke-width="0.8" opacity="0.7"/>
<ellipse cx="652.2" cy="367.7" rx="5.4" ry="17.2" fill="#1b1d20"/>
<rect x="654.9" y="349.7" width="22.7" height="38.5" rx="6.5" fill="url(#collar)"/>
<rect x="656.9" y="352.7" width="13.6" height="11.5" rx="5" fill="#fff" opacity="0.25"/>
<rect x="672.6" y="353.5" width="10" height="31.0" rx="3" fill="url(#collar)"/>
<rect x="674.0" y="356.0" width="22.0" height="26.0" rx="2" fill="url(#collar)"/>
<circle cx="679.9" cy="370.7" r="2.7" fill="#595d61"/><circle cx="680.2" cy="371.0" r="1.3" fill="#c9d4e4"/>
<path d="M695.0,356.0 Q695.0,351.0 700.4,350.5 L701.6,333.0 L717.0,333.6 L727.0,350.0 L752.5,350.5 Q761.1,351.0 761.1,373.5 Q761.1,397.0 752.5,397.0 L699.0,391.0 Q695.0,391.0 695.0,386.0 Z" fill="url(#handle)"/>
<ellipse cx="755.9" cy="374.0" rx="4.6" ry="21.5" fill="#5b9be9" opacity="0.85"/>
<polygon points="701.6,333.0 717.0,333.6 718.6,336.6 701.3,335.6" fill="#4c93ea" opacity="0.7"/>
<rect x="694.4" y="356.0" width="1.6" height="30.0" fill="#123a7a" opacity="0.6"/>
<rect x="173.1" y="635.0" width="5.9" height="72.0" fill="url(#thin)"/>
<ellipse cx="168.4" cy="706.3" rx="9.6" ry="3.6" fill="#c9cccd"/>
<polygon points="176.1,703.8 195.0,705.1 195.0,706.3 176.1,709.8" fill="#b4b8ba"/>
<rect x="173.1" y="701.3" width="5.9" height="6" fill="url(#thin)"/>
<rect x="225.2" y="634" width="12.4" height="80" fill="url(#rodBase)"/>
<path d="M53.8,759.0 C56.5,757.1 64.0,751.5 70.0,747.5 C76.0,743.5 82.5,738.5 90.0,735.0 C97.5,731.5 106.7,728.4 115.0,726.2 C123.3,724.1 131.7,723.0 140.0,722.0 C148.3,721.0 156.7,720.7 165.0,720.3 C173.3,719.9 180.8,719.7 190.0,719.6 C199.2,719.5 210.3,719.2 220.0,719.6 C229.7,720.0 239.7,720.9 248.0,722.0 C256.3,723.1 263.0,724.3 270.0,726.0 C277.0,727.7 283.3,729.5 290.0,732.0 C296.7,734.5 304.0,737.7 310.0,741.0 C316.0,744.3 321.8,748.2 326.0,752.0 C330.2,755.8 332.9,760.0 335.0,764.0 C337.1,768.0 337.9,774.0 338.5,776.0 L338.5,792 Q338,802 328,807.5 Q314,812.5 300.5,808.8 Q297,807 297,800 L297,783 L304.0,774.5 C305.8,773.2 313.8,768.9 314.5,766.5 C315.2,764.1 311.1,762.2 308.0,760.0 C304.9,757.8 300.7,755.1 296.0,753.0 C291.3,750.9 286.0,748.6 280.0,747.3 C274.0,746.0 266.0,745.0 260.0,745.0 C254.0,745.0 248.7,746.0 244.0,747.0 C239.3,748.0 235.8,750.8 232.0,750.8 C228.2,750.8 224.2,748.6 221.0,747.0 C217.8,745.4 218.2,742.2 213.0,741.0 C207.8,739.8 198.0,740.0 190.0,740.0 C182.0,740.0 173.3,740.5 165.0,741.2 C156.7,742.0 148.3,742.8 140.0,744.5 C131.7,746.2 123.3,748.0 115.0,751.2 C106.7,754.5 96.3,759.9 90.0,763.8 C83.7,767.6 79.2,772.7 77.0,774.5 L75.5,780 Q66,784 58,782.2 Q53.6,780.5 53.75,775 Z" fill="#2b56b0"/>
<path d="M297,782.5 L312,784.5 L338.5,776 L338.5,792 Q338,802 328,807.5 Q314,812.5 300.5,808.8 Q297,807 297,800 Z" fill="#2d59b4"/>
<path d="M53.75,759.5 L77,773.5 L75.5,780 Q66,784 58,782.2 Q53.6,780.5 53.75,775 Z" fill="#2e5bb6"/>
<path d="M53.8,759.0 C56.5,757.1 64.0,751.5 70.0,747.5 C76.0,743.5 82.5,738.5 90.0,735.0 C97.5,731.5 106.7,728.4 115.0,726.2 C123.3,724.1 131.7,723.0 140.0,722.0 C148.3,721.0 156.7,720.7 165.0,720.3 C173.3,719.9 180.8,719.7 190.0,719.6 C199.2,719.5 210.3,719.2 220.0,719.6 C229.7,720.0 239.7,720.9 248.0,722.0 C256.3,723.1 263.0,724.3 270.0,726.0 C277.0,727.7 283.3,729.5 290.0,732.0 C296.7,734.5 304.0,737.7 310.0,741.0 C316.0,744.3 321.8,748.2 326.0,752.0 C330.2,755.8 332.9,760.0 335.0,764.0 C337.1,768.0 337.9,774.0 338.5,776.0 L328,780 L312,784.5 L297.0,782.5 C298.2,781.2 301.2,777.2 304.0,774.5 C306.8,771.8 312.7,769.6 314.0,766.5 C315.3,763.4 314.3,759.2 312.0,756.0 C309.7,752.8 305.3,749.8 300.0,747.0 C294.7,744.2 286.7,741.1 280.0,739.3 C273.3,737.5 266.2,737.0 260.0,736.3 C253.8,735.6 250.5,735.5 243.0,735.0 C235.5,734.5 223.8,733.7 215.0,733.0 C206.2,732.3 198.3,731.3 190.0,731.0 C181.7,730.7 173.3,730.8 165.0,731.3 C156.7,731.8 148.3,732.8 140.0,734.0 C131.7,735.2 123.3,735.9 115.0,738.5 C106.7,741.1 96.3,743.8 90.0,749.5 C83.7,755.2 79.2,769.1 77.0,773.0 Z" fill="#3a69c6"/>
<path d="M220.6,714 L220.6,744 Q232,754 243.6,745 L243.6,714 Z" fill="url(#hub)"/>
<ellipse cx="232.1" cy="714" rx="11.5" ry="3" fill="#3c6bc6"/>
<ellipse cx="232.1" cy="714.2" rx="6.5" ry="1.7" fill="#1f3f86"/>
<rect x="243" y="718" width="5" height="7" rx="2" fill="#2a54ae"/>
<rect x="226" y="704" width="11.8" height="10.5" fill="url(#rodBase)"/>
<rect x="398.9" y="671.5" width="8.4" height="107" rx="1.5" fill="url(#ptfe)"/>
<rect x="396.8" y="776.8" width="11.8" height="22" rx="2" fill="#e7ecf2"/>
<path d="M378.7,796 Q380,805 392,806.5 L414,806.5 Q425,805 426.5,795.5 Q418,800 408.8,799 L397,799 Q387,800 378.7,796 Z" fill="#e3e8ee"/>
<rect x="539.0" y="654.4" width="5.4" height="84.6" fill="url(#thin)"/>
<ellipse cx="536.4" cy="738.3" rx="7.4" ry="3.6" fill="#c9cccd"/>
<polygon points="541.7,735.8 560.7,737.1 560.7,738.3 541.7,741.8" fill="#b4b8ba"/>
<rect x="539.0" y="733.3" width="5.4" height="6" fill="url(#thin)"/>
<polygon points="539,760.8 649.8,773.7 590.9,829.8 465.8,809.6" fill="url(#plateTop)"/>
<polygon points="465.8,809.6 590.9,829.8 590.9,836.8 465.8,816" fill="#3a6fcc"/>
<polygon points="590.9,829.8 649.8,773.7 649.8,780.8 590.9,836.8" fill="#3463bf"/>
<polygon points="587.5,771 595,771 593.5,829.5 588.5,829" fill="#4c74c9" opacity="0.45"/>
<rect x="586.6" y="654.4" width="8.6" height="115.5" fill="url(#thin)"/>
<ellipse cx="591" cy="770.5" rx="4.3" ry="1.6" fill="#2a3f6a"/>
<rect x="476" y="816.5" width="7" height="2.2" fill="#33415f"/><rect x="578" y="834.5" width="7" height="2.2" fill="#33415f"/>
</g>
<g id="lines">
<line class="ln" x1="245" y1="250.5" x2="636" y2="246"/>
<line class="ln" x1="127.8" y1="328.6" x2="220" y2="328.6"/>
<line class="ln" x1="142.3" y1="387.4" x2="468.5" y2="387.4"/>
<line class="ln" x1="232.5" y1="427.3" x2="447.5" y2="427.3"/>
<line class="ln" x1="128" y1="601.5" x2="366.5" y2="601.5"/>
<line class="ln" x1="450" y1="601.5" x2="532.5" y2="601.5"/>
<line class="ln" x1="176.5" y1="684" x2="393" y2="690"/>
</g>
<g id="labels">
<text class="lbl" x="453" y="214">The vertical</text>
<text class="lbl" x="452" y="237.5">lever adjusts the height</text>
<text class="lbl" x="137" y="297.5">Overhead punch</text>
<text class="lbl" x="409" y="343">Speed digital</text>
<text class="lbl" x="409" y="366">display</text>
<text class="lbl" x="353" y="450">Brushless</text>
<text class="lbl" x="353" y="472.5">DC motor drive</text>
<text class="lbl" x="408" y="570">String core</text>
<text class="lbl" x="408" y="593.3">stirring paddle</text>
<text class="lbl" x="351.5" y="653.2">F4/ stainless</text>
<text class="lbl" x="351" y="676">steel stirring paddle</text>
</g>

</svg>
</body>
</html>
